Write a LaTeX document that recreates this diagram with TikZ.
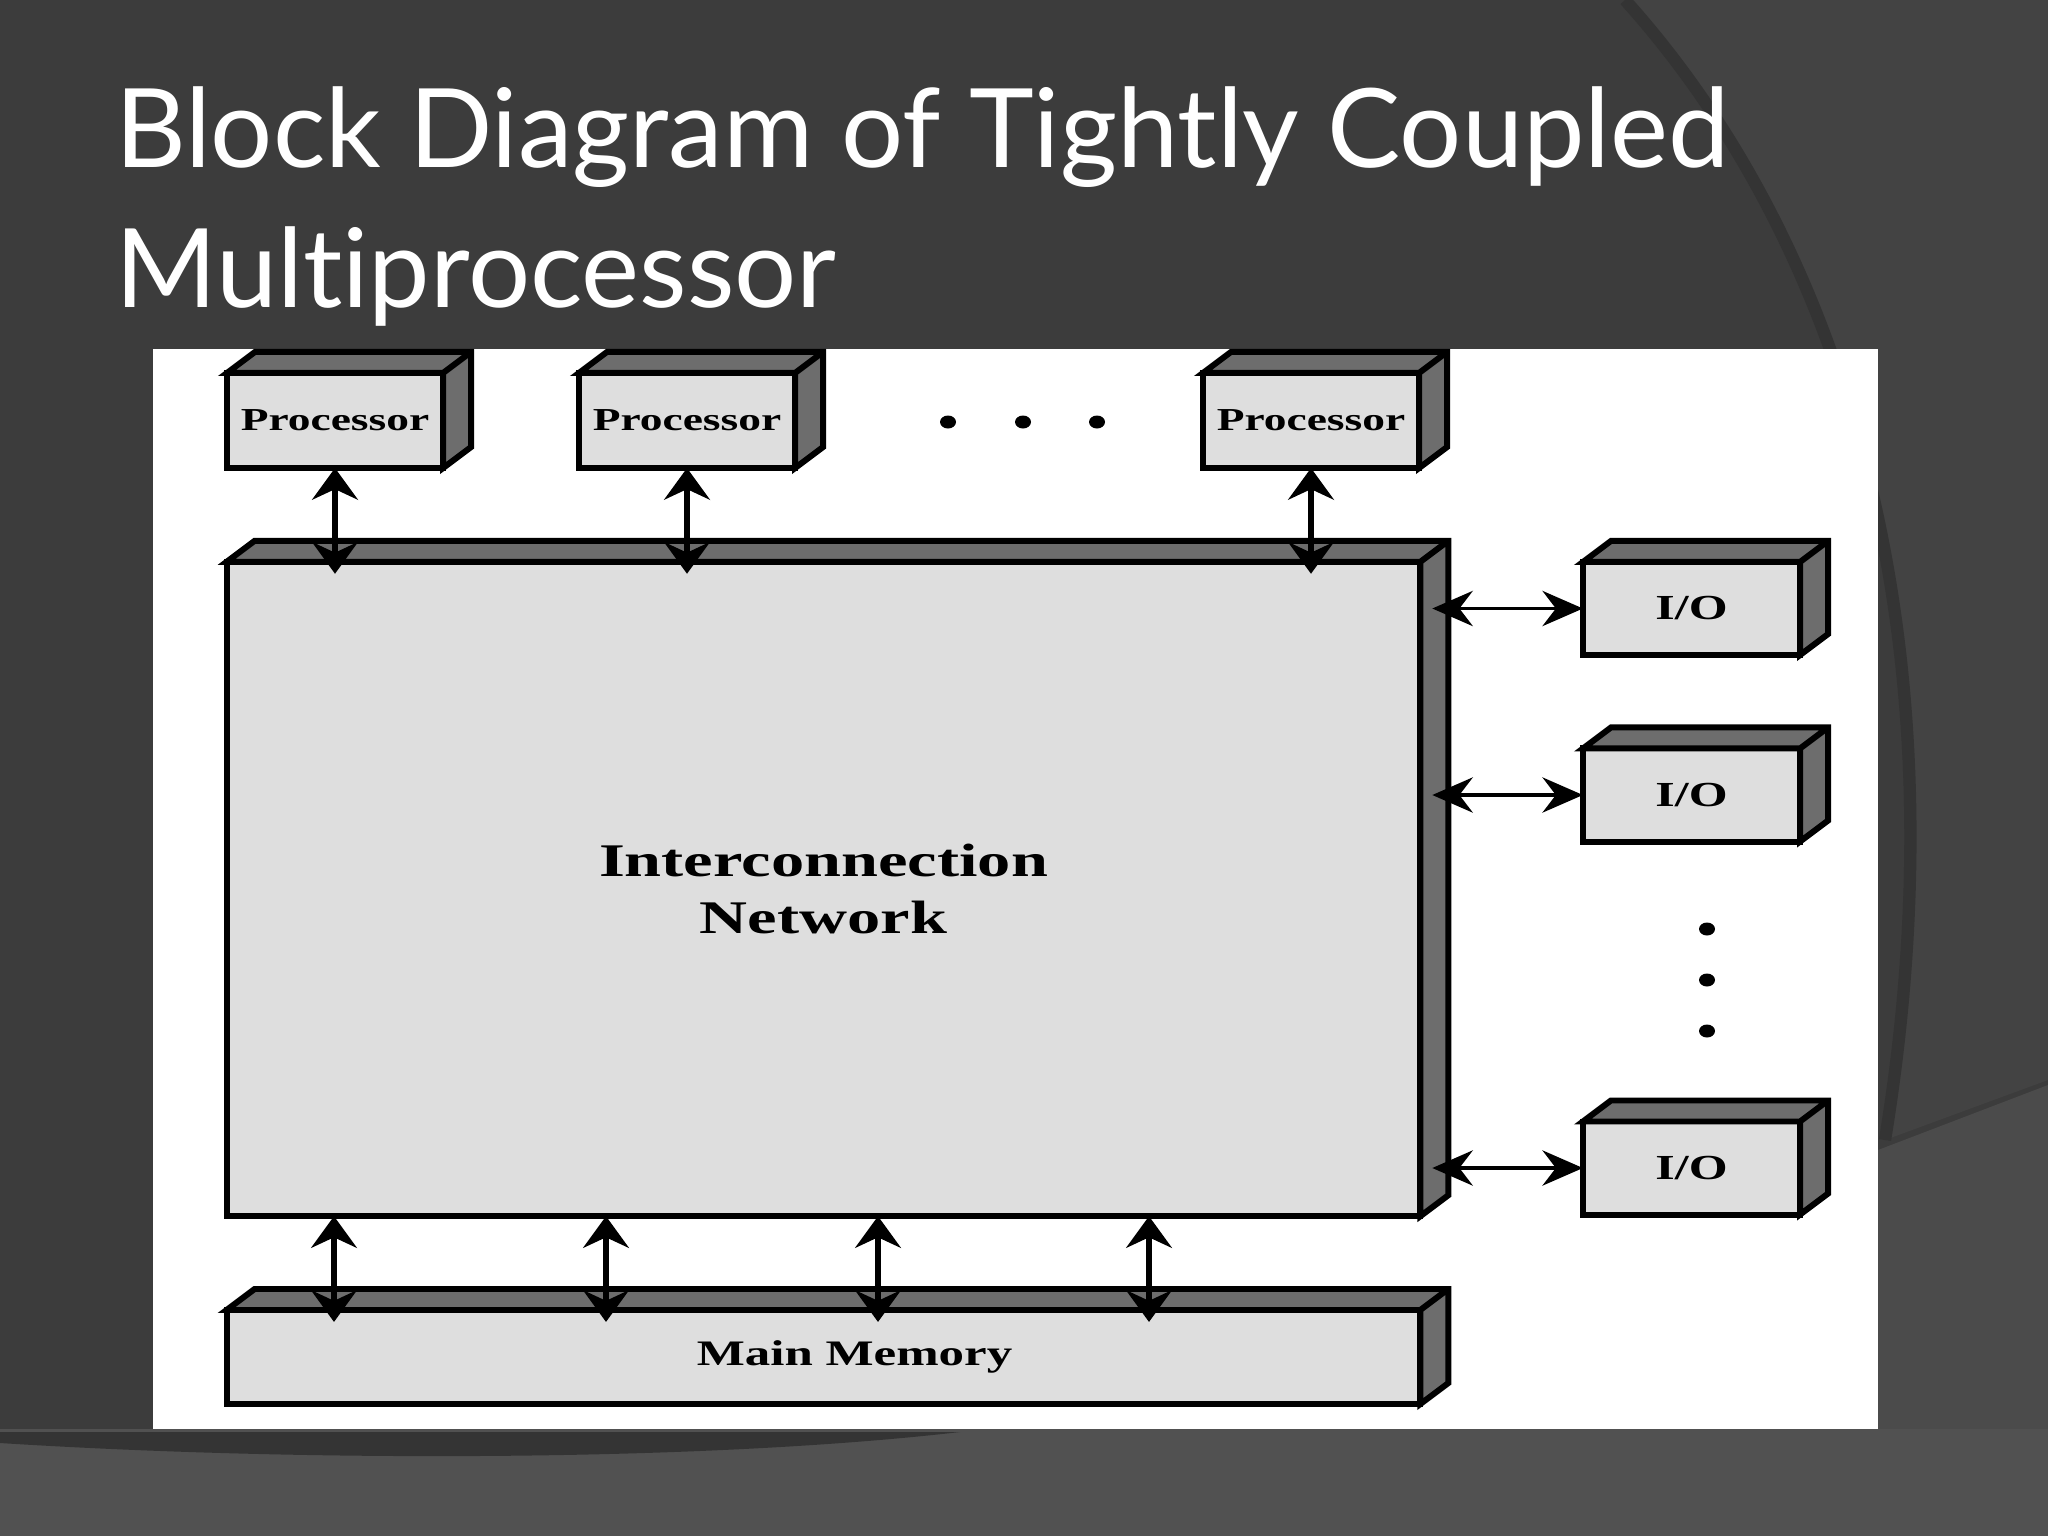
\documentclass[tikz,border=0pt]{standalone}
\usepackage{fontspec}
\setmainfont{Liberation Serif}
\newfontfamily\titlefont[Ligatures=NoCommon]{Lato}
\newfontfamily\boxfont[FakeStretch=1.42]{Liberation Serif}
\usetikzlibrary{arrows.meta,positioning,calc}

\definecolor{slideDark}{HTML}{3C3C3C}
\definecolor{slideMid}{HTML}{434343}
\definecolor{slideLow}{HTML}{4B4B4B}
\definecolor{slideFloor}{HTML}{515151}
\definecolor{slideArc}{HTML}{343434}
\definecolor{faceLight}{HTML}{DEDEDE}
\definecolor{faceDark}{HTML}{6D6D6D}

\begin{document}
\begin{tikzpicture}[x=0.01cm, y=-0.01cm,
				      every node/.style={inner sep=0pt, outer sep=0pt},
				      frontFace/.style={
						      draw, rectangle, line width=1.7pt, fill=faceLight,
						      font=\boxfont\bfseries
					      },
				      procBox/.style={
						      frontFace, minimum width=2.16cm, minimum height=0.95cm,
						      font=\boxfont\bfseries\fontsize{9.1}{10}\selectfont
					      },
				      ioBox/.style={
						      frontFace, minimum width=2.17cm, minimum height=0.93cm,
						      font=\boxfont\bfseries\fontsize{10}{11}\selectfont
					      },
				      sideFace/.style={draw, line width=1.7pt, fill=faceDark, line join=miter},
				      busArrow/.style={<->, >={Stealth[length=9pt, width=13pt, inset=3pt]}, line width=1.8pt},
				      ioArrow/.style={<->, >={Stealth[length=11.5pt, width=10pt, inset=3.8pt]}, line width=1.1pt},
				      moreDot/.style={fill=black},
				      titleText/.style={text=white, font=\titlefont\fontsize{31.2}{36}\selectfont}
			      ]
			      \useasboundingbox (0,0) rectangle (2048,1536);

			      % slide background
			      \fill[slideDark] (0,0) rectangle (2048,1536);
			      \fill[slideMid] (1625,0) .. controls (1850,250) and (1965,650) .. (1885,1140) -- (2048,1080) -- (2048,0) -- cycle;
			      \draw[slideArc, line width=3.5pt] (1625,0) .. controls (1850,250) and (1965,650) .. (1885,1140);
			      \fill[slideLow] (1878,1150) -- (2048,1085) -- (2048,1536) -- (1878,1536) -- cycle;
			      \fill[slideFloor] (0,1429) rectangle (2048,1536);
			      \fill[slideArc] (0,1432) -- (960,1432) .. controls (700,1462) and (300,1462) .. (0,1443) -- cycle;
			      \fill[white] (153,349) rectangle (1878,1429);

			      % processors
			      \node[procBox] (p1) at (335,420.5) {Processor};
			      \node[procBox] (p2) at (687,420.5) {Processor};
			      \node[procBox] (p3) at (1311,420.5) {Processor};

			      % network and memory
			      \node[frontFace, minimum width=11.93cm, minimum height=6.54cm, align=center,
			            font=\boxfont\bfseries\fontsize{13.3}{16.2}\selectfont] (net) at (823.5,889) {Interconnection\\Network};
			      \node[frontFace, minimum width=11.93cm, minimum height=0.94cm,
			            font=\boxfont\bfseries\fontsize{10.2}{11}\selectfont] (mem) at (823.5,1357) {\hspace*{0.62cm}Main Memory};

			      % I/O modules
			      \node[ioBox] (io1) at (1691.5,608.5) {I/O};
			      \node[ioBox] (io2) at (1691.5,795) {I/O};
			      \node[ioBox] (io3) at (1691.5,1168) {I/O};

			      % 3d faces
			      \foreach \n in {p1,p2,p3,net,mem,io1,io2,io3}
			      \draw[sideFace] (\n.north west) -- ++(28,-21) -- ($(\n.north east)+(28,-21)$)
			        -- ($(\n.south east)+(28,-21)$) -- (\n.south east) -- (\n.north east) -- cycle
			        (\n.north east) -- ++(28,-21);

			      % connections
			      \foreach \n in {p1,p2,p3}
			      \draw[busArrow, shorten >=-3.4pt] (\n.south) -- (\n.south |- net.north);
			      \foreach \x [count=\i] in {334,606,878,1149} {
					      \coordinate (port\i) at (\x,0);
					      \draw[busArrow, shorten >=-3.4pt] (port\i |- net.south) -- (port\i |- mem.north);
				      }
			      \foreach \n in {io1,io2,io3}
			      \draw[ioArrow, shorten >=3.4pt] (\n.west) -- (\n.west -| net.east);

			      % ellipsis dots
			      \foreach \x in {948,1023,1097}
			      \fill[moreDot] (\x,422) ellipse [x radius=8, y radius=6.5];
			      \foreach \y in {929,980,1031}
			      \fill[moreDot] (1707,\y) ellipse [x radius=8, y radius=6.5];

			      % title
			      \node[titleText, anchor=base west] (title1) at (115,167) {Block Diagram of Tightly Coupled};
			      \node[titleText, anchor=base west] (title2) at (115,307) {Multiprocessor};
		      \end{tikzpicture}
\end{document}
